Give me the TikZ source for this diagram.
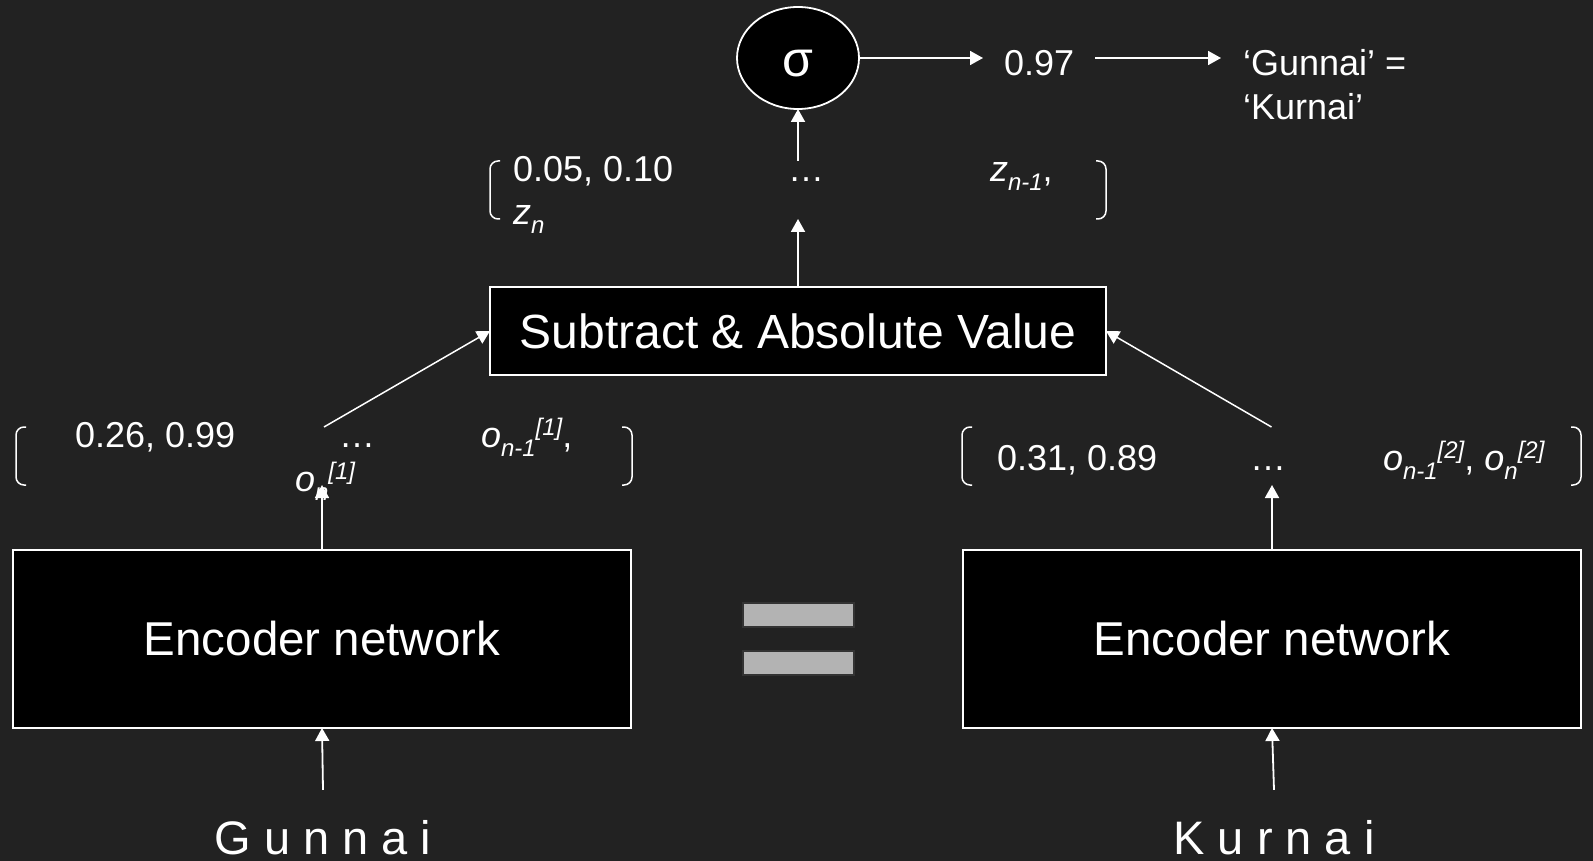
\documentclass[tikz,border=0pt]{standalone}
\usepackage{fontspec}
\setmainfont{Liberation Sans}
\usetikzlibrary{arrows.meta,shapes.geometric}
\definecolor{bg}{HTML}{222222}
\definecolor{barfill}{HTML}{B3B3B3}
\definecolor{barline}{HTML}{333333}
\newcommand\fz[1]{\fontsize{#1}{#1}\selectfont}
\newcommand\sbx[1]{\raisebox{-0.25em}{\fontsize{24}{24}\selectfont\itshape #1}}
\newcommand\spx[1]{\raisebox{0.32em}{\fontsize{24}{24}\selectfont\itshape #1}}
\begin{document}
\begin{tikzpicture}[x=1pt,y=-1pt,
  every node/.style={text=white, inner sep=0pt, outer sep=0pt},
  blk/.style={draw=white, fill=black, line width=1.8pt},
  arr/.style={draw=white, line width=1.8pt, -{Triangle[width=14pt,length=13pt]}},
  vec/.style={minimum width=616pt, minimum height=58pt},
  brk/.style={draw=white, line width=1.5pt, rounded corners=8pt},
  vt/.style={font=\fz{36}, anchor=base west},
  eqbar/.style={fill=barfill, draw=barline, line width=2pt, minimum width=111pt, minimum height=24pt}]
\fill[bg] (0,0) rectangle (1593,861);
\useasboundingbox (0,0) rectangle (1593,861);

\node[blk, ellipse, minimum width=122pt, minimum height=102pt, font=\fz{50}] (sig) at (798,58) {\raisebox{-19pt}[0pt][0pt]{σ}};
\node[blk, minimum width=616pt, minimum height=88pt, font=\fz{48}] (sub) at (798,331) {Subtract \& Absolute Value};
\node[blk, minimum width=618pt, minimum height=178pt, font=\fz{47.5}] (enc1) at (322,639) {Encoder network};
\node[blk, minimum width=618pt, minimum height=178pt, font=\fz{47.5}] (enc2) at (1272,639) {Encoder network};

\node[vec] (vec0) at (798,190) {};
\node[vec] (vec1) at (324,456) {};
\node[vec, minimum width=619pt] (vec2) at (1271.5,456) {};
\foreach \v in {vec0,vec1,vec2}{
  \draw[brk] ([xshift=10pt]\v.north west) -- (\v.north west) -- (\v.south west) -- ([xshift=10pt]\v.south west);
  \draw[brk] ([xshift=-10pt]\v.north east) -- (\v.north east) -- (\v.south east) -- ([xshift=-10pt]\v.south east);
}

\node[vt] (t0a) at (513,182) {0.05, 0.10};
\node[vt] (t0b) at (788,182) {…};
\node[vt] (t0c) at (990,182) {\textit{z}\sbx{n-1},};
\node[vt] (t0d) at (513,225) {\textit{z}\sbx{n}};

\node[vt] (t1a) at (75,447) {0.26, 0.99};
\node[vt] (t1b) at (339,447) {…};
\node[vt] (t1c) at (481,447) {\textit{o}\sbx{n-1}\spx{[1]},};
\node[vt] (t1d) at (295,491) {\textit{o}\sbx{n}\spx{[1]}};

\node[vt] (t2a) at (997,470) {0.31, 0.89};
\node[vt] (t2b) at (1250,470) {…};
\node[vt] (t2c) at (1383,470) {\textit{o}\sbx{n-1}\spx{[2]}, \textit{o}\sbx{n}\spx{[2]}};

\node[font=\fz{36}, anchor=base west, inner xsep=21pt] (p97) at (983,76) {0.97};
\node[font=\fz{36}, anchor=base west, inner xsep=22pt] (res1) at (1221,76) {‘Gunnai’ =};
\node[font=\fz{36}, anchor=base west] (res2) at (1243,120) {‘Kurnai’};

\node[eqbar] (eqa) at (798.5,615) {};
\node[eqbar] (eqb) at (798.5,663) {};

\node[font=\fz{47}, anchor=base] (w1) at (323,854) {G u n n a i};
\node[font=\fz{47}, anchor=base] (w2) at (1274,854) {K u r n a i};

\draw[arr] (sig.east) -- (sig.east -| p97.west);
\draw[arr] (p97.east |- sig.east) -- (sig.east -| res1.west);
\draw[arr] (vec0.north) -- (sig.south);
\draw[arr] (sub.north) -- (vec0.south);
\draw[arr, line width=1.5pt] (vec1.north) -- (sub.west);
\draw[arr, line width=1.5pt] (vec2.north) -- (sub.east);
\draw[arr] (enc1.north) -- (enc1.north |- vec1.south);
\draw[arr] (enc2.north) -- (enc2.north |- vec2.south);
\draw[arr] ([yshift=30pt]w1.north) -- (enc1.south);
\draw[arr] ([yshift=30pt]w2.north) -- (enc2.south);
\end{tikzpicture}
\end{document}
